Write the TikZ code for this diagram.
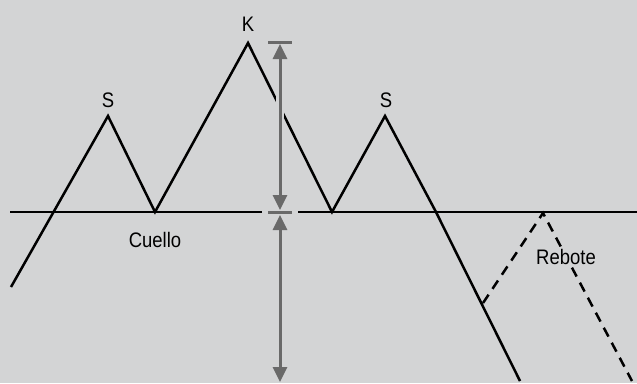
\documentclass[tikz,border=0pt]{standalone}
\usepackage{fontspec}
\setmainfont[FakeStretch=0.88]{Liberation Sans}
\usetikzlibrary{arrows.meta}
\definecolor{bg}{RGB}{211,212,213}
\definecolor{arr}{RGB}{105,105,105}
\tikzset{
  chart/.style={line width=2.5pt, black, line join=miter},
  reb/.style={line width=2.5pt, black, dash pattern=on 10pt off 7pt},
  meas/.style={line width=3pt, arr, {Triangle[length=15pt,width=14pt]}-{Triangle[length=15pt,width=14pt]}},
  bar/.style={line width=3pt, arr},
  halo/.style={line width=8pt, bg},
  lbl/.style={font=\fontsize{21}{21}\selectfont, inner sep=0pt}
}
\begin{document}
\begin{tikzpicture}[x=1pt,y=-1pt]
\fill[bg] (0,0) rectangle (637,383);
\useasboundingbox (0,0) rectangle (637,383);
% chart vertices
\coordinate (p0) at (11,287);
\coordinate (s1) at (108,116);
\coordinate (v1) at (155,212);
\coordinate (k) at (248,43);
\coordinate (v2) at (332,212);
\coordinate (s2) at (385,116);
\coordinate (p1) at (436,212);
\coordinate (pe) at (520,381);
\coordinate (r0) at (483,303);
\coordinate (r1) at (543,213);
\coordinate (r2) at (632,381);
% neckline
\coordinate (n0) at (10,212);
\coordinate (n1) at (262,212);
\coordinate (n2) at (298,212);
\coordinate (n3) at (637,212);
% measure
\coordinate (mt) at (280,44);
\coordinate (mm1) at (280,210);
\coordinate (mm2) at (280,215);
\coordinate (mb) at (280,382);
\coordinate (bt0) at (268,42);
\coordinate (bt1) at (292,42);
\coordinate (bm0) at (268,212);
\coordinate (bm1) at (292,212);
\coordinate (h0) at (280,90);
\coordinate (h1) at (280,125);

\draw[chart] (n0) -- (n1);
\draw[chart] (n2) -- (n3);
\draw[chart] (p0) -- (s1) -- (v1) -- (k) -- (v2) -- (s2) -- (p1) -- (pe);
\draw[reb] (r0) -- (r1) -- (r2);

\draw[halo] (h0) -- (h1);
\draw[meas] (mt) -- (mm1);
\draw[meas] (mm2) -- (mb);
\draw[bar] (bt0) -- (bt1);
\draw[bar] (bm0) -- (bm1);

\node[lbl] (ls1) at (108,100) {S};
\node[lbl] (lk) at (248,24) {K};
\node[lbl] (ls2) at (386,100) {S};
\node[lbl] (lc) at (155,240) {Cuello};
\node[lbl, fill=bg, inner sep=2pt] (lr) at (566,257) {Rebote};
\end{tikzpicture}
\end{document}
